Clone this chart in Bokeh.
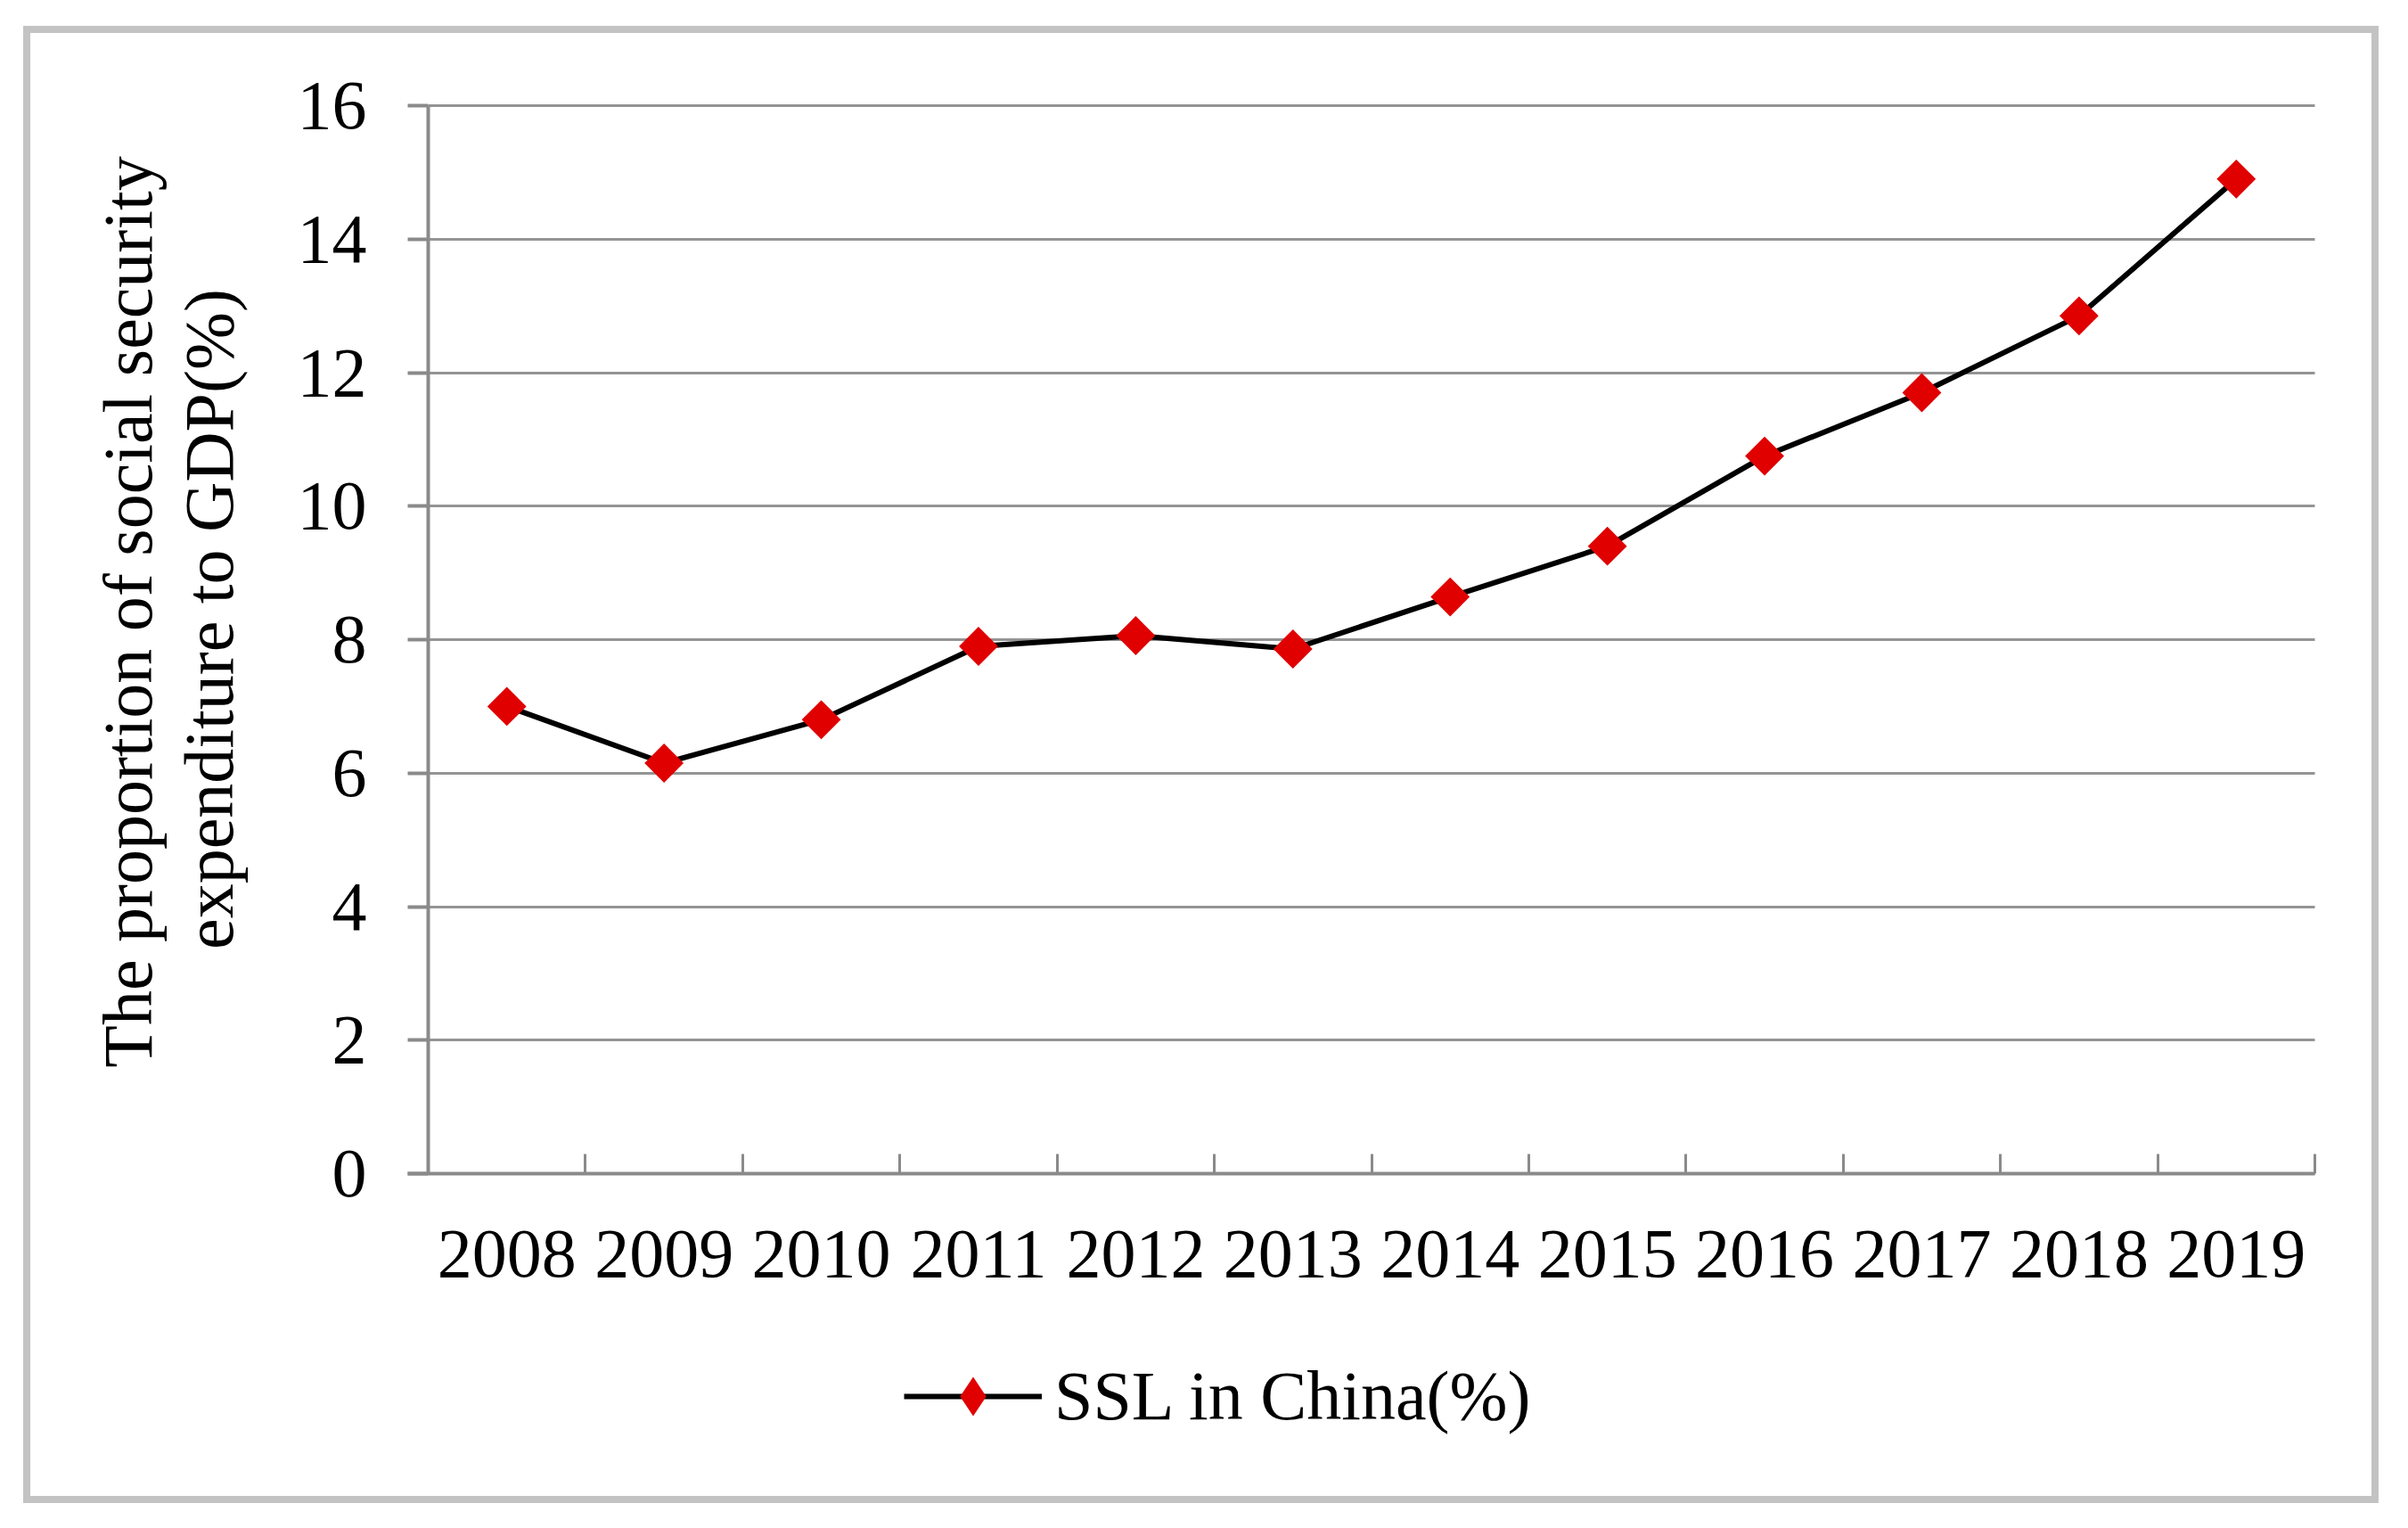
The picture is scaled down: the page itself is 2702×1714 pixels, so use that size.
import numpy as np
from bokeh.plotting import figure
from bokeh.models import FixedTicker, Legend, LegendItem, Label
from bokeh.embed import file_html
from bokeh.resources import INLINE

# ---- data ----
years = ["2008", "2009", "2010", "2011", "2012", "2013",
         "2014", "2015", "2016", "2017", "2018", "2019"]
ssl = [7.0, 6.15, 6.8, 7.9, 8.06, 7.86, 8.64, 9.4, 10.75, 11.7, 12.85, 14.9]
y_ticks = [0, 2, 4, 6, 8, 10, 12, 14, 16]
series_name = "SSL in China(%)"
y_title_lines = ["The proportion of social security", "expenditure to GDP(%)"]

FONT = "Liberation Serif"
FS = "78px"

# ---- layout (canvas pixels) ----
W, H = 2643, 1657
PLOT_L, PLOT_R = 446, 2563        # x = 0 and x = n_cat
PLOT_T, PLOT_B = 81, 1279         # y = 16 and y = 0
n_cat = len(years)
y_top = y_ticks[-1]
sx = (PLOT_R - PLOT_L) / n_cat
sy = (PLOT_B - PLOT_T) / y_top
x_range = (-PLOT_L / sx, n_cat + (W - PLOT_R) / sx)
y_range = (-(H - PLOT_B) / sy, y_top + PLOT_T / sy)

x = np.arange(n_cat) + 0.5

p = figure(width=W, height=H, output_backend="svg", toolbar_location=None,
           x_range=x_range, y_range=y_range,
           min_border_left=0, min_border_right=0,
           min_border_top=0, min_border_bottom=0)
p.margin = (29, 0, 0, 26)
p.styles = {"border": "8px solid #c3c3c3"}
p.outline_line_color = None
p.background_fill_color = "white"
p.border_fill_color = "white"

AX_COL = "#8a8a8a"
GRID_COL = "#949494"
RED = "#e00000"

# x axis: labels at category centres, ticks at category boundaries
xa = p.xaxis[0]
xa.fixed_location = 0
xa.bounds = (-23 / sx, n_cat)
xa.ticker = FixedTicker(ticks=list(x), minor_ticks=list(range(n_cat + 1)))
xa.major_label_overrides = {float(v): years[i] for i, v in enumerate(x)}
xa.major_tick_in = 0
xa.major_tick_out = 0
xa.minor_tick_in = 22
xa.minor_tick_out = 0
xa.minor_tick_line_color = AX_COL
xa.minor_tick_line_width = 3
xa.axis_line_color = AX_COL
xa.axis_line_width = 4
xa.major_label_text_font = FONT
xa.major_label_text_font_size = FS
xa.major_label_text_color = "black"
xa.major_label_standoff = 64

ya = p.yaxis[0]
ya.fixed_location = 0
ya.bounds = (0, y_top)
ya.ticker = FixedTicker(ticks=y_ticks)
ya.minor_tick_line_color = None
ya.major_tick_in = 0
ya.major_tick_out = 23
ya.major_tick_line_color = AX_COL
ya.major_tick_line_width = 4
ya.axis_line_color = AX_COL
ya.axis_line_width = 4
ya.major_label_text_font = FONT
ya.major_label_text_font_size = FS
ya.major_label_text_color = "black"
ya.major_label_standoff = 46

p.xgrid.grid_line_color = None
p.ygrid.grid_line_color = GRID_COL
p.ygrid.grid_line_width = 3
try:
    p.ygrid.cross_bounds = (0, n_cat)
except Exception:
    p.ygrid.grid_line_color = None
    ya.major_tick_in = int(round(PLOT_R - PLOT_L))
    ya.major_tick_line_color = GRID_COL
    ya.major_tick_line_width = 3

# y axis title, two centred lines rotated 90 degrees
for txt, bx, cy in zip(y_title_lines, [109, 200], [649, 657]):
    p.add_layout(Label(x=bx, y=H - cy, x_units="screen", y_units="screen",
                       text=txt, angle=np.pi / 2, text_align="center",
                       text_baseline="alphabetic", text_font=FONT,
                       text_font_size=FS, text_color="black"))

ln = p.line(x, ssl, line_color="black", line_width=6)
# diamond markers used for the legend swatch (covered by the rotated squares)
sw = p.scatter(x, ssl, marker="diamond", size=20,
               fill_color=RED, line_color=None)
sc = p.scatter(x, ssl, marker="square", angle=np.pi / 4, size=31,
               fill_color=RED, line_color=None)

legend = Legend(items=[LegendItem(label=series_name, renderers=[ln, sw])],
                location=(980, 73), orientation="horizontal",
                padding=0, margin=0, spacing=0,
                glyph_width=155, glyph_height=110, label_height=60,
                label_standoff=14,
                label_text_font=FONT, label_text_font_size=FS,
                label_text_color="black",
                border_line_color=None, background_fill_alpha=0)
p.add_layout(legend, "center")

open("out.html", "w").write(file_html(p, INLINE))
